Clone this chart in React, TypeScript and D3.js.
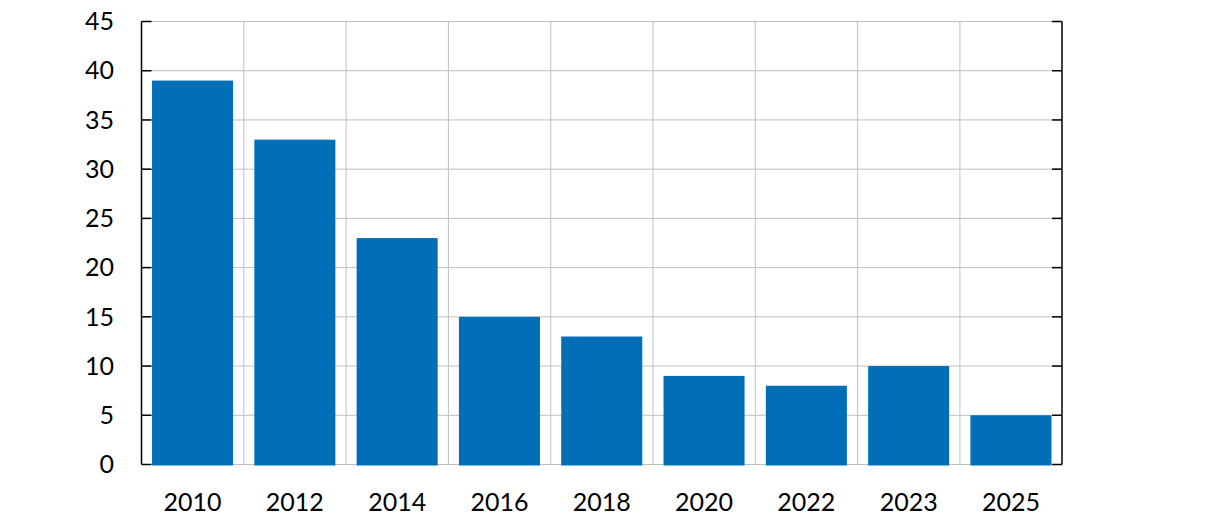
import { useEffect } from "react";
import * as d3 from "d3";

const years = ["2010", "2012", "2014", "2016", "2018", "2020", "2022", "2023", "2025"];
const values = [39, 33, 23, 15, 13, 9, 8, 10, 5];
const yTicks = [0, 5, 10, 15, 20, 25, 30, 35, 40, 45];

const W = 1222;
const H = 532;
const left = 141.5;
const right = 1062;
const top = 21.5;
const bottom = 464.5;
const BAR = "#006FB7";
const GRID = "#BFBFBF";
const FONT = "Lato, 'Open Sans', sans-serif";

export default function App() {
  useEffect(() => {
    document.body.style.margin = "0";
  }, []);

  const x = d3.scaleBand<string>()
    .domain(years)
    .range([left, right])
    .paddingInner(0.208)
    .paddingOuter(0.103);
  const y = d3.scaleLinear().domain([0, 45]).range([bottom, top]);
  const step = x.step();
  const start = left + (step * 0.103) - step * 0.103; // band boundaries start at the axis

  // vertical grid lines at band boundaries
  const vLines = years.slice(1).map((_, i) => start + step * (i + 1));

  return (
    <svg width={W} height={H} style={{ display: "block", background: "#fff" }}>
      {yTicks.map((t) => (
        <line key={"h" + t} x1={left} x2={right} y1={y(t)} y2={y(t)} stroke={GRID} strokeWidth={1} />
      ))}
      {vLines.map((v, i) => (
        <line key={"v" + i} x1={v} x2={v} y1={top} y2={bottom} stroke={GRID} strokeWidth={1} />
      ))}
      {years.map((yr, i) => (
        <rect
          key={yr}
          x={x(yr)}
          y={y(values[i])}
          width={x.bandwidth()}
          height={bottom + 1 - y(values[i])}
          fill={BAR}
        />
      ))}
      {/* left axis */}
      <line x1={left} x2={left} y1={top} y2={bottom} stroke="#000" strokeWidth={1.5} />
      {yTicks.map((t) => (
        <line key={"lt" + t} x1={left} x2={left + 10} y1={y(t)} y2={y(t)} stroke="#000" strokeWidth={1.5} />
      ))}
      {/* right axis */}
      <line x1={right} x2={right} y1={top} y2={bottom} stroke="#000" strokeWidth={1.5} />
      {yTicks.map((t) => (
        <line key={"rt" + t} x1={right - 10} x2={right} y1={y(t)} y2={y(t)} stroke="#000" strokeWidth={1.5} />
      ))}
      {yTicks.map((t) => (
        <text
          key={"yl" + t}
          x={114}
          y={y(t)}
          dy="0.35em"
          textAnchor="end"
          fontFamily={FONT}
          fontSize={25}
          fill="#000"
        >
          {t}
        </text>
      ))}
      {years.map((yr) => (
        <text
          key={"xl" + yr}
          x={(x(yr) ?? 0) + x.bandwidth() / 2}
          y={511}
          textAnchor="middle"
          fontFamily={FONT}
          fontSize={25}
          fill="#000"
        >
          {yr}
        </text>
      ))}
    </svg>
  );
}
